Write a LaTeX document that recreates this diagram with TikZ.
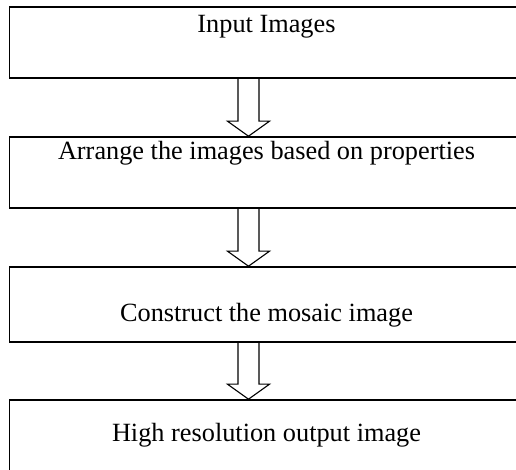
\documentclass[tikz,border=0pt]{standalone}
\usepackage{fontspec}
\setmainfont{Liberation Serif}
\usetikzlibrary{calc}

\tikzset{
  stage/.style={draw=black,line width=1.6pt,fill=none,minimum width=514pt,inner sep=0pt},
  stagetext/.style={anchor=base,font=\fontsize{26.3}{31}\selectfont},
  hollow/.style={draw=black,line width=1.1pt,line join=miter}
}

\begin{document}
\begin{tikzpicture}[x=1pt,y=1pt]
\useasboundingbox (0,0) rectangle (516,470);
\clip (0,0) rectangle (516,470);
\coordinate (axis) at (248.5,0);
\node[stage,minimum height=71pt,label={[stagetext,yshift=-26pt]north:Input Images}] (input) at (266.5,427.5) {};
\node[stage,minimum height=71pt,label={[stagetext,yshift=-23pt]north:Arrange the images based on properties}] (arrange) at (266.5,297.5) {};
\node[stage,minimum height=75pt,label={[stagetext,yshift=-55pt]north:Construct the mosaic image}] (construct) at (266.5,165.5) {};
\node[stage,minimum height=90pt,label={[stagetext,yshift=-42pt]north:High resolution output image}] (output) at (266.5,25) {};
% block arrows between the stages
\foreach \from/\to in {input/arrange,arrange/construct,construct/output}{
  \draw[hollow] ($(\from.south -| axis)+(-10.5,0)$) -- ($(\to.north -| axis)+(-10.5,15)$)
    -- ($(\to.north -| axis)+(-21,15)$) -- (\to.north -| axis)
    -- ($(\to.north -| axis)+(21,15)$) -- ($(\to.north -| axis)+(10.5,15)$)
    -- ($(\from.south -| axis)+(10.5,0)$);
}
\end{tikzpicture}
\end{document}
